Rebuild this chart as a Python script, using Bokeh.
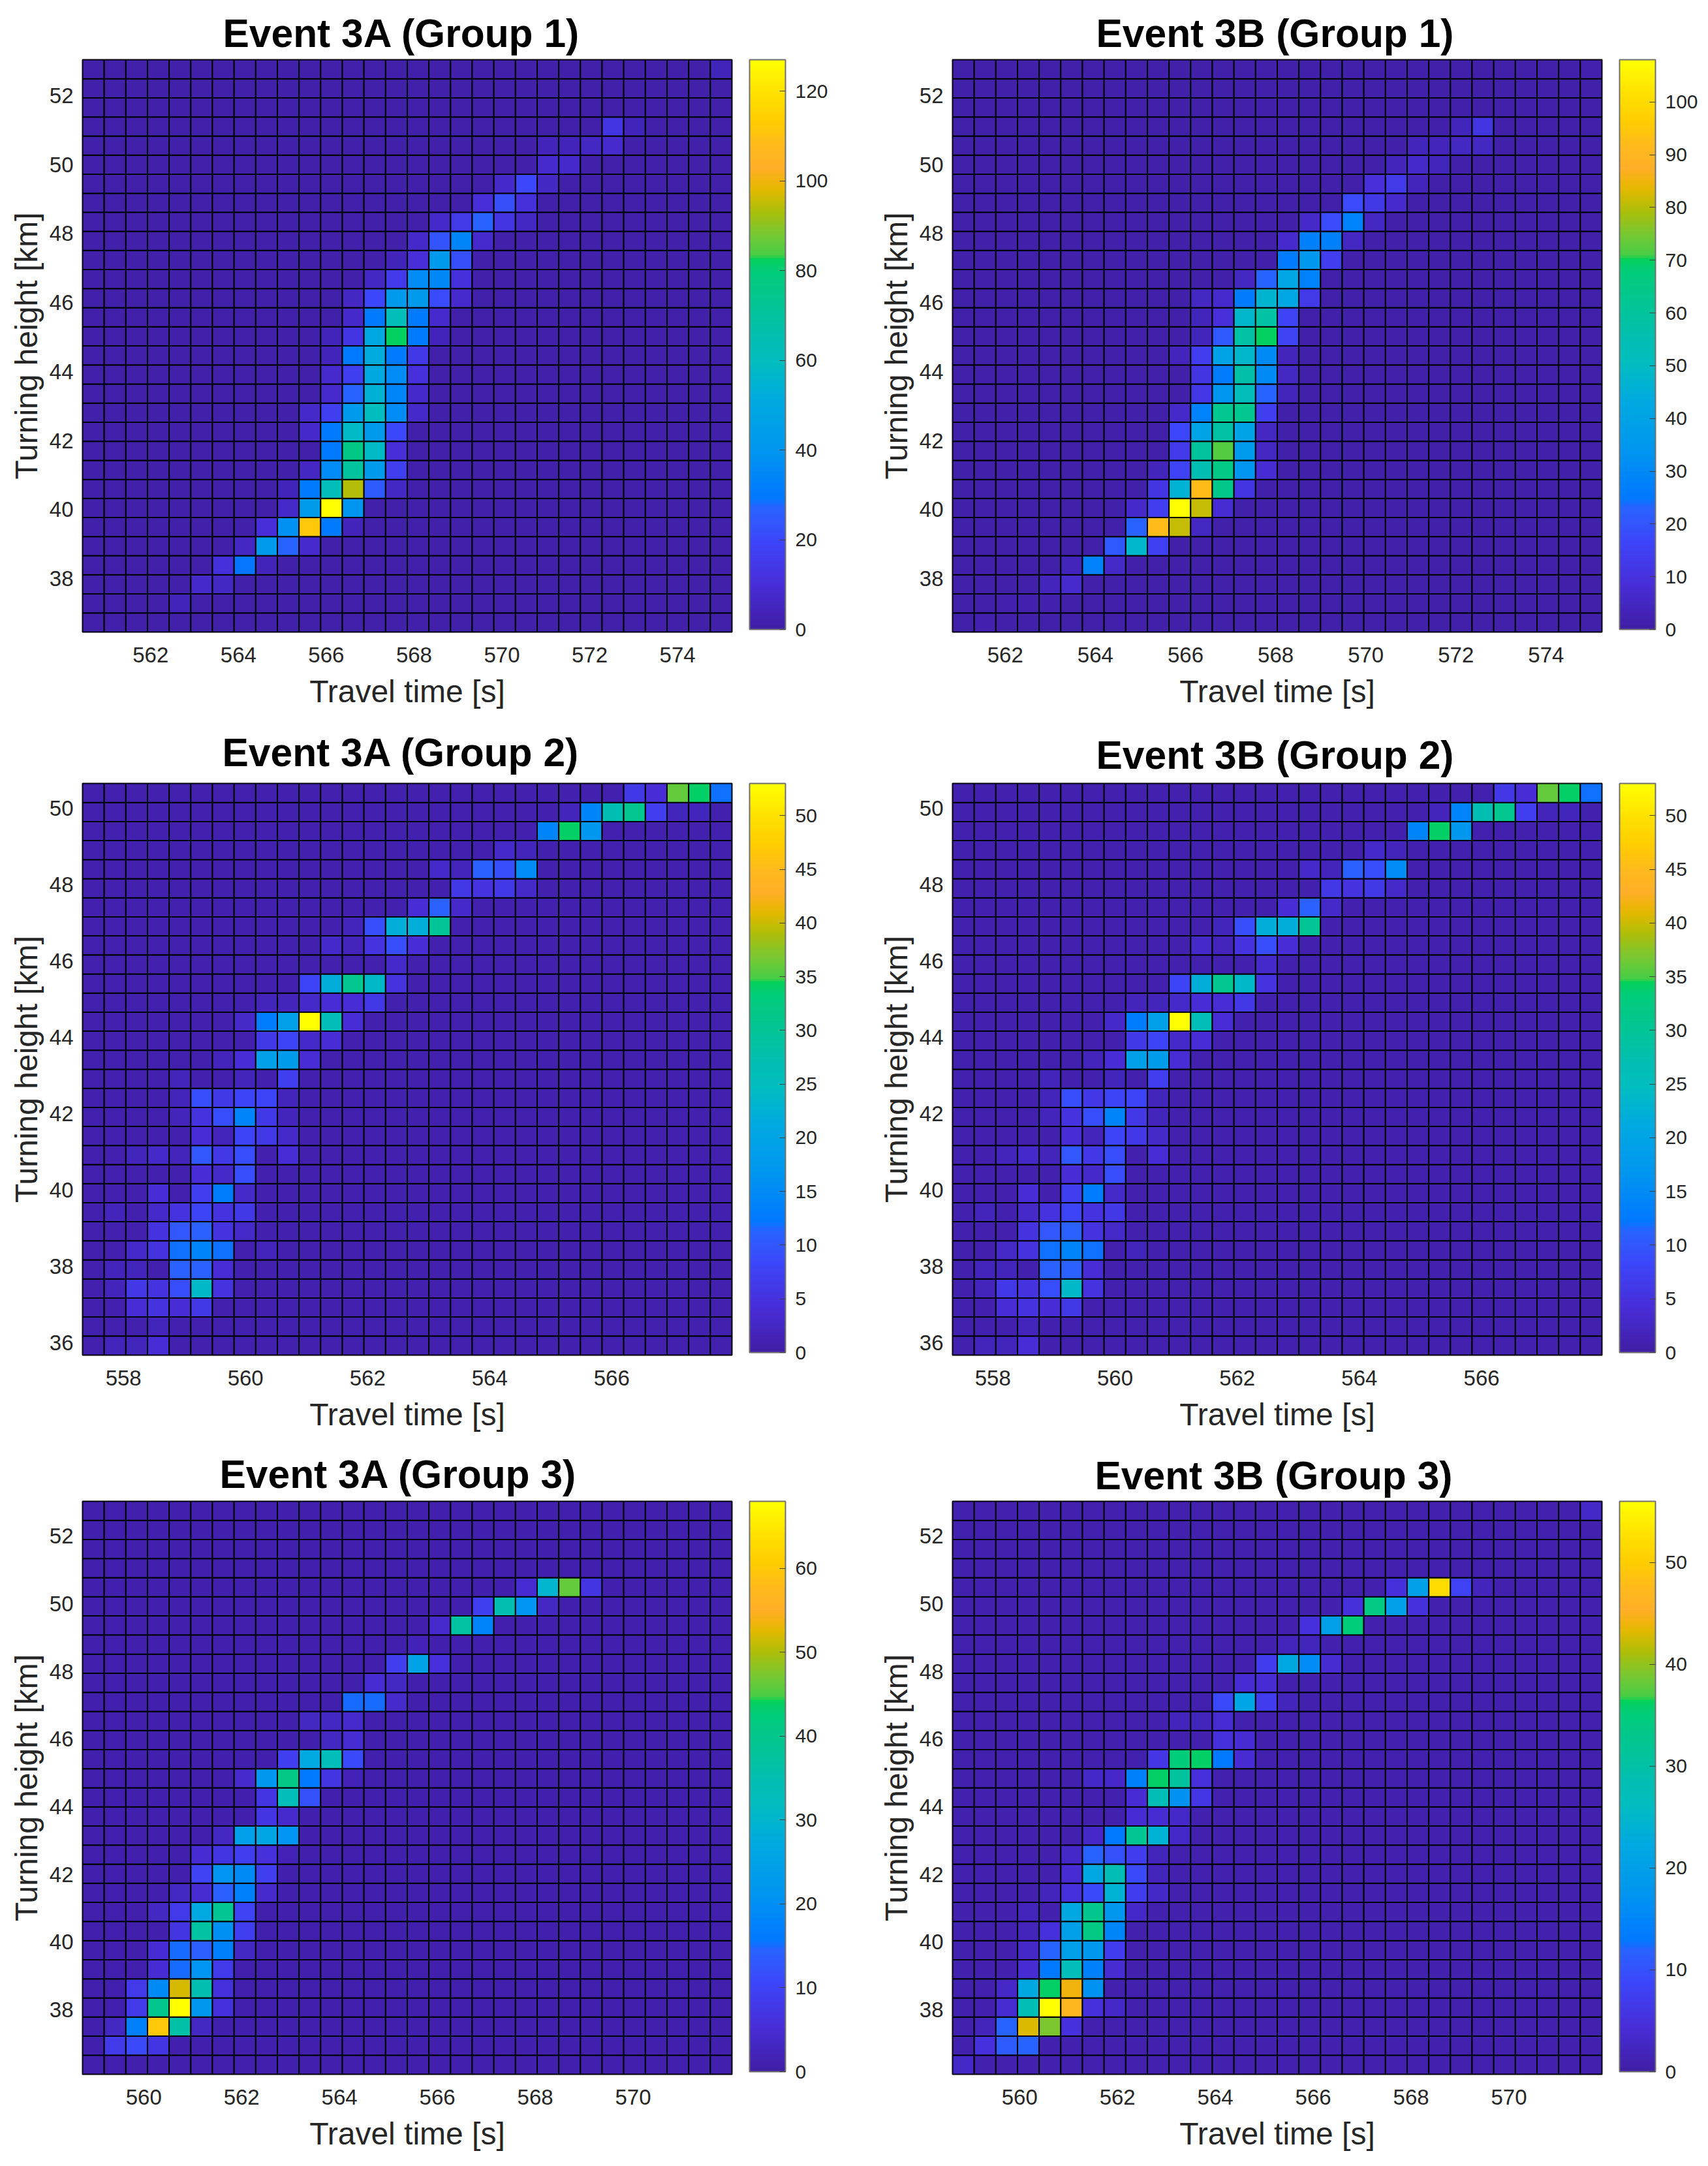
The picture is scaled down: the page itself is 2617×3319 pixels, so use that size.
import numpy as np
from bokeh.embed import file_html
from bokeh.layouts import column, row
from bokeh.models import ColorBar, ColumnDataSource, FixedTicker, LinearColorMapper
from bokeh.plotting import figure
from bokeh.resources import INLINE

# each table is listed top row first, 30 rows by 30 travel time bins
event_3a_group_1 = [
    [1,1,1,1,1,1,1,1,1,1, 1,1,1,1,1,1,1,1,1,1, 1,1,1,1,1,1,1,1,1,4],
    [1,1,1,1,1,1,1,1,1,1, 1,1,1,1,1,1,1,1,1,1, 1,1,1,1,1,1,1,1,1,1],
    [1,1,1,1,1,1,1,1,1,1, 1,1,1,1,1,1,1,1,1,1, 1,1,1,1,1,1,1,1,1,1],
    [1,1,1,1,1,1,1,1,1,1, 1,1,1,1,1,1,1,1,1,1, 1,1,1,1,13,4,1,1,1,1],
    [1,1,1,1,1,1,1,1,1,1, 1,1,1,1,1,1,1,1,1,1, 1,4,4,6,8,1,1,1,1,1],
    [1,1,1,1,1,1,1,1,1,1, 1,1,1,1,1,1,1,1,1,1, 1,8,7,1,1,1,1,1,1,1],
    [1,1,1,1,1,1,1,1,1,1, 1,1,1,1,1,1,1,1,1,7, 20,6,1,1,1,1,1,1,1,1],
    [1,1,1,1,1,1,1,1,1,1, 1,1,1,1,1,1,1,1,10,22, 11,1,1,1,1,1,1,1,1,1],
    [1,1,1,1,1,1,1,1,1,1, 1,1,1,1,1,1,7,15,27,13, 6,1,1,1,1,1,1,1,1,1],
    [1,1,1,1,1,1,1,1,1,1, 1,1,1,1,1,7,23,34,8,1, 1,1,1,1,1,1,1,1,1,1],
    [1,1,1,1,1,1,1,1,1,1, 1,1,1,1,4,10,42,22,1,1, 1,1,1,1,1,1,1,1,1,1],
    [1,1,1,1,1,1,1,1,1,1, 1,1,1,6,15,36,35,11,1,1, 1,1,1,1,1,1,1,1,1,1],
    [1,1,1,1,1,1,1,1,1,1, 1,1,6,20,42,42,21,8,1,1, 1,1,1,1,1,1,1,1,1,1],
    [1,1,1,1,1,1,1,1,1,1, 1,1,7,30,62,30,8,1,1,1, 1,1,1,1,1,1,1,1,1,1],
    [1,1,1,1,1,1,1,1,1,1, 1,4,13,50,82,30,4,1,1,1, 1,1,1,1,1,1,1,1,1,1],
    [1,1,1,1,1,1,1,1,1,1, 1,4,30,52,30,14,1,1,1,1, 1,1,1,1,1,1,1,1,1,1],
    [1,1,1,1,1,1,1,1,1,1, 1,8,17,50,36,11,1,1,1,1, 1,1,1,1,1,1,1,1,1,1],
    [1,1,1,1,1,1,1,1,1,1, 1,8,27,54,34,7,1,1,1,1, 1,1,1,1,1,1,1,1,1,1],
    [1,1,1,1,1,1,1,1,1,1, 7,17,42,60,36,7,1,1,1,1, 1,1,1,1,1,1,1,1,1,1],
    [1,1,1,1,1,1,1,1,1,1, 7,30,58,42,20,1,1,1,1,1, 1,1,1,1,1,1,1,1,1,1],
    [1,1,1,1,1,1,1,1,1,1, 1,30,76,58,10,1,1,1,1,1, 1,1,1,1,1,1,1,1,1,1],
    [1,1,1,1,1,1,1,1,1,1, 6,36,70,42,17,1,1,1,1,1, 1,1,1,1,1,1,1,1,1,1],
    [1,1,1,1,1,1,1,1,1,4, 30,62,94,25,6,1,1,1,1,1, 1,1,1,1,1,1,1,1,1,1],
    [1,1,1,1,1,1,1,1,1,7, 43,127,40,1,1,1,1,1,1,1, 1,1,1,1,1,1,1,1,1,1],
    [1,1,1,1,1,1,1,1,10,38, 112,30,4,1,1,1,1,1,1,1, 1,1,1,1,1,1,1,1,1,1],
    [1,1,1,1,1,1,1,6,42,27, 8,1,1,1,1,1,1,1,1,1, 1,1,1,1,1,1,1,1,1,1],
    [1,1,1,1,1,1,11,29,4,1, 1,1,1,1,1,1,1,1,1,1, 1,1,1,1,1,1,1,1,1,1],
    [1,1,1,1,1,7,6,1,1,1, 1,1,1,1,1,1,1,1,1,1, 1,1,1,1,1,1,1,1,1,1],
    [1,1,1,1,4,1,1,1,1,1, 1,1,1,1,1,1,1,1,1,1, 1,1,1,1,1,1,1,1,1,1],
    [1,1,1,1,1,1,1,1,1,1, 1,1,1,1,1,1,1,1,1,1, 1,1,1,1,1,1,1,1,1,1],
]

event_3b_group_1 = [
    [1,1,1,1,1,1,1,1,1,1, 1,1,1,1,1,1,1,1,1,1, 1,1,1,1,1,1,1,1,1,2],
    [1,1,1,1,1,1,1,1,1,1, 1,1,1,1,1,1,1,1,1,1, 1,1,1,1,1,1,1,1,1,1],
    [1,1,1,1,1,1,1,1,1,1, 1,1,1,1,1,1,1,1,1,1, 1,1,1,1,1,1,1,1,1,1],
    [1,1,1,1,1,1,1,1,1,1, 1,1,1,1,1,1,1,1,1,1, 1,1,1,4,11,1,1,1,1,1],
    [1,1,1,1,1,1,1,1,1,1, 1,1,1,1,1,1,1,1,1,1, 1,4,4,5,5,1,1,1,1,1],
    [1,1,1,1,1,1,1,1,1,1, 1,1,1,1,1,1,1,1,1,1, 4,6,4,1,1,1,1,1,1,1],
    [1,1,1,1,1,1,1,1,1,1, 1,1,1,1,1,1,1,1,1,9, 13,4,1,1,1,1,1,1,1,1],
    [1,1,1,1,1,1,1,1,1,1, 1,1,1,1,1,1,1,1,18,12, 7,1,1,1,1,1,1,1,1,1],
    [1,1,1,1,1,1,1,1,1,1, 1,1,1,1,1,1,6,18,28,5, 1,1,1,1,1,1,1,1,1,1],
    [1,1,1,1,1,1,1,1,1,1, 1,1,1,1,1,7,27,27,5,1, 1,1,1,1,1,1,1,1,1,1],
    [1,1,1,1,1,1,1,1,1,1, 1,1,1,1,1,26,35,14,1,1, 1,1,1,1,1,1,1,1,1,1],
    [1,1,1,1,1,1,1,1,1,1, 1,1,1,5,23,42,28,1,1,1, 1,1,1,1,1,1,1,1,1,1],
    [1,1,1,1,1,1,1,1,1,1, 1,5,7,26,47,42,13,1,1,1, 1,1,1,1,1,1,1,1,1,1],
    [1,1,1,1,1,1,1,1,1,1, 1,4,9,48,58,16,1,1,1,1, 1,1,1,1,1,1,1,1,1,1],
    [1,1,1,1,1,1,1,1,1,1, 1,4,21,58,70,16,1,1,1,1, 1,1,1,1,1,1,1,1,1,1],
    [1,1,1,1,1,1,1,1,1,1, 4,14,40,48,30,4,1,1,1,1, 1,1,1,1,1,1,1,1,1,1],
    [1,1,1,1,1,1,1,1,1,1, 1,11,26,57,30,5,1,1,1,1, 1,1,1,1,1,1,1,1,1,1],
    [1,1,1,1,1,1,1,1,1,1, 1,12,34,52,23,4,1,1,1,1, 1,1,1,1,1,1,1,1,1,1],
    [1,1,1,1,1,1,1,1,1,1, 6,28,63,63,14,1,1,1,1,1, 1,1,1,1,1,1,1,1,1,1],
    [1,1,1,1,1,1,1,1,1,1, 17,40,58,40,5,1,1,1,1,1, 1,1,1,1,1,1,1,1,1,1],
    [1,1,1,1,1,1,1,1,1,1, 13,60,72,36,5,1,1,1,1,1, 1,1,1,1,1,1,1,1,1,1],
    [1,1,1,1,1,1,1,1,1,4, 16,55,65,34,8,1,1,1,1,1, 1,1,1,1,1,1,1,1,1,1],
    [1,1,1,1,1,1,1,1,1,11, 46,92,64,11,1,1,1,1,1,1, 1,1,1,1,1,1,1,1,1,1],
    [1,1,1,1,1,1,1,1,6,14, 108,81,8,1,1,1,1,1,1,1, 1,1,1,1,1,1,1,1,1,1],
    [1,1,1,1,1,1,1,1,23,92, 81,5,1,1,1,1,1,1,1,1, 1,1,1,1,1,1,1,1,1,1],
    [1,1,1,1,1,1,1,21,48,15, 1,1,1,1,1,1,1,1,1,1, 1,1,1,1,1,1,1,1,1,1],
    [1,1,1,1,1,4,28,6,1,1, 1,1,1,1,1,1,1,1,1,1, 1,1,1,1,1,1,1,1,1,1],
    [1,1,1,1,4,7,1,1,1,1, 1,1,1,1,1,1,1,1,1,1, 1,1,1,1,1,1,1,1,1,1],
    [1,1,2,2,2,1,1,1,1,1, 1,1,1,1,1,1,1,1,1,1, 1,1,1,1,1,1,1,1,1,1],
    [1,2,1,1,1,1,1,1,1,1, 1,1,1,1,1,1,1,1,1,1, 1,1,1,1,1,1,1,1,1,1],
]

event_3a_group_2 = [
    [1,1,1,1,1,1,1,1,1,1, 1,1,1,1,1,1,1,1,1,1, 1,1,1,1,1,6,4,36,34,12],
    [1,1,1,1,1,1,1,1,1,1, 1,1,1,1,1,1,1,1,1,1, 1,1,2,14,27,31,7,2,2,1],
    [1,1,1,1,1,1,1,1,1,1, 1,1,1,1,1,1,1,1,1,1, 1,14,34,17,1,1,1,1,1,1],
    [1,1,1,1,1,1,1,1,1,1, 1,1,1,1,1,1,1,1,1,3, 2,1,1,1,1,1,1,1,1,1],
    [1,1,1,1,1,1,1,1,1,1, 1,1,1,1,1,1,3,2,11,9, 15,1,1,1,1,1,1,1,1,1],
    [1,1,1,1,1,1,1,1,1,1, 1,1,1,1,1,1,1,6,5,6, 3,1,1,1,1,1,1,1,1,1],
    [1,1,1,1,1,1,1,1,1,1, 1,1,1,1,1,4,11,3,1,1, 1,1,1,1,1,1,1,1,1,1],
    [1,1,1,1,1,1,1,1,1,1, 1,1,2,9,22,22,30,1,1,1, 1,1,1,1,1,1,1,1,1,1],
    [1,1,1,1,1,1,1,1,1,1, 1,3,2,5,9,4,1,1,1,1, 1,1,1,1,1,1,1,1,1,1],
    [1,1,1,1,1,1,1,1,1,1, 1,1,1,1,3,1,1,1,1,1, 1,1,1,1,1,1,1,1,1,1],
    [1,1,1,1,1,1,1,1,1,1, 8,22,31,24,5,1,1,1,1,1, 1,1,1,1,1,1,1,1,1,1],
    [1,1,1,1,1,1,1,1,2,2, 3,4,4,6,1,1,1,1,1,1, 1,1,1,1,1,1,1,1,1,1],
    [1,1,1,1,1,1,1,3,13,19, 53,26,4,1,1,1,1,1,1,1, 1,1,1,1,1,1,1,1,1,1],
    [1,1,1,1,1,1,1,1,6,8, 3,4,1,1,1,1,1,1,1,1, 1,1,1,1,1,1,1,1,1,1],
    [1,1,1,1,1,1,2,4,19,18, 4,1,1,1,1,1,1,1,1,1, 1,1,1,1,1,1,1,1,1,1],
    [1,1,1,1,2,1,1,2,1,7, 1,1,1,1,1,1,1,1,1,1, 1,1,1,1,1,1,1,1,1,1],
    [1,1,1,1,2,9,6,8,8,2, 1,1,1,1,1,1,1,1,1,1, 1,1,1,1,1,1,1,1,1,1],
    [1,1,1,1,2,5,9,14,6,2, 1,1,1,1,1,1,1,1,1,1, 1,1,1,1,1,1,1,1,1,1],
    [1,1,1,1,1,4,2,8,6,3, 1,1,1,1,1,1,1,1,1,1, 1,1,1,1,1,1,1,1,1,1],
    [1,1,2,3,2,10,6,9,1,4, 1,1,1,1,1,1,1,1,1,1, 1,1,1,1,1,1,1,1,1,1],
    [1,1,1,1,1,4,3,9,1,1, 1,1,1,1,1,1,1,1,1,1, 1,1,1,1,1,1,1,1,1,1],
    [1,1,1,4,1,7,13,3,1,1, 1,1,1,1,1,1,1,1,1,1, 1,1,1,1,1,1,1,1,1,1],
    [1,2,1,3,5,8,5,6,1,1, 1,1,1,1,1,1,1,1,1,1, 1,1,1,1,1,1,1,1,1,1],
    [1,1,1,5,10,11,5,3,1,1, 1,1,1,1,1,1,1,1,1,1, 1,1,1,1,1,1,1,1,1,1],
    [1,1,3,5,12,14,12,1,2,1, 1,1,1,1,1,1,1,1,1,1, 1,1,1,1,1,1,1,1,1,1],
    [1,2,2,1,11,11,4,1,1,1, 1,1,1,1,1,1,1,1,1,1, 1,1,1,1,1,1,1,1,1,1],
    [1,2,6,5,9,24,5,1,1,1, 1,1,1,1,1,1,1,1,1,1, 1,1,1,1,1,1,1,1,1,1],
    [1,1,4,5,4,6,1,1,1,1, 1,1,1,1,1,1,1,1,1,1, 1,1,1,1,1,1,1,1,1,1],
    [1,1,1,2,1,1,1,1,1,1, 1,1,1,1,1,1,1,1,1,1, 1,1,1,1,1,1,1,1,1,1],
    [1,2,2,4,1,1,1,1,1,1, 1,1,1,1,1,1,1,1,1,1, 1,1,1,1,1,1,1,1,1,1],
]

# the two group 2 panels read the same off the picture
event_3b_group_2 = event_3a_group_2

event_3a_group_3 = [
    [1,1,1,1,1,1,1,1,1,1, 1,1,1,1,1,1,1,1,1,1, 1,1,1,1,1,1,1,1,1,1],
    [1,1,1,1,1,1,1,1,1,1, 1,1,1,1,1,1,1,1,1,1, 1,1,1,1,1,1,1,1,1,1],
    [1,1,1,1,1,1,1,1,1,1, 1,1,1,1,1,1,1,1,1,1, 1,1,1,1,1,1,1,1,1,1],
    [1,1,1,1,1,1,1,1,1,1, 1,1,1,1,1,1,1,1,1,1, 1,1,1,1,1,1,1,1,1,1],
    [1,1,1,1,1,1,1,1,1,1, 1,1,1,1,1,1,1,1,1,1, 5,30,46,7,1,1,1,1,1,1],
    [1,1,1,1,1,1,1,1,1,1, 1,1,1,1,1,1,1,1,9,35, 21,3,1,1,1,1,1,1,1,1],
    [1,1,1,1,1,1,1,1,1,1, 1,1,1,1,1,1,4,37,18,1, 1,1,1,1,1,1,1,1,1,1],
    [1,1,1,1,1,1,1,1,1,1, 1,1,1,1,1,2,1,1,1,1, 1,1,1,1,1,1,1,1,1,1],
    [1,1,1,1,1,1,1,1,1,1, 1,1,1,1,9,25,6,1,1,1, 1,1,1,1,1,1,1,1,1,1],
    [1,1,1,1,1,1,1,1,1,1, 1,1,1,5,3,1,1,1,1,1, 1,1,1,1,1,1,1,1,1,1],
    [1,1,1,1,1,1,1,1,1,1, 1,1,15,15,4,1,1,1,1,1, 1,1,1,1,1,1,1,1,1,1],
    [1,1,1,1,1,1,1,1,1,1, 3,3,4,1,1,1,1,1,1,1, 1,1,1,1,1,1,1,1,1,1],
    [1,1,1,1,1,1,1,1,1,1, 1,3,5,1,1,1,1,1,1,1, 1,1,1,1,1,1,1,1,1,1],
    [1,1,1,1,1,1,1,1,1,9, 27,33,11,1,1,1,1,1,1,1, 1,1,1,1,1,1,1,1,1,1],
    [1,1,1,1,1,1,1,4,22,41, 16,7,2,1,1,1,1,1,1,1, 1,1,1,1,1,1,1,1,1,1],
    [1,1,1,1,1,1,1,1,7,33, 12,1,1,1,1,1,1,1,1,1, 1,1,1,1,1,1,1,1,1,1],
    [1,1,1,1,1,1,1,1,7,4, 1,1,1,1,1,1,1,1,1,1, 1,1,1,1,1,1,1,1,1,1],
    [1,1,1,1,1,1,3,24,26,21, 1,1,1,1,1,1,1,1,1,1, 1,1,1,1,1,1,1,1,1,1],
    [1,1,1,1,1,5,7,9,6,2, 1,1,1,1,1,1,1,1,1,1, 1,1,1,1,1,1,1,1,1,1],
    [1,1,1,1,1,10,21,19,9,1, 1,1,1,1,1,1,1,1,1,1, 1,1,1,1,1,1,1,1,1,1],
    [1,1,1,1,3,5,14,17,4,1, 1,1,1,1,1,1,1,1,1,1, 1,1,1,1,1,1,1,1,1,1],
    [1,1,1,3,8,27,39,10,1,1, 1,1,1,1,1,1,1,1,1,1, 1,1,1,1,1,1,1,1,1,1],
    [1,1,1,1,7,37,20,9,1,1, 1,1,1,1,1,1,1,1,1,1, 1,1,1,1,1,1,1,1,1,1],
    [1,1,1,5,15,14,17,3,1,1, 1,1,1,1,1,1,1,1,1,1, 1,1,1,1,1,1,1,1,1,1],
    [1,1,1,5,15,21,8,1,1,1, 1,1,1,1,1,1,1,1,1,1, 1,1,1,1,1,1,1,1,1,1],
    [1,1,8,19,52,35,6,1,1,1, 1,1,1,1,1,1,1,1,1,1, 1,1,1,1,1,1,1,1,1,1],
    [1,1,8,40,68,22,6,1,1,1, 1,1,1,1,1,1,1,1,1,1, 1,1,1,1,1,1,1,1,1,1],
    [1,3,17,60,36,3,1,1,1,1, 1,1,1,1,1,1,1,1,1,1, 1,1,1,1,1,1,1,1,1,1],
    [1,8,11,7,1,1,1,1,1,1, 1,1,1,1,1,1,1,1,1,1, 1,1,1,1,1,1,1,1,1,1],
    [1,1,1,1,1,1,1,1,1,1, 1,1,1,1,1,1,1,1,1,1, 1,1,1,1,1,1,1,1,1,1],
]

event_3b_group_3 = [
    [1,1,1,1,1,1,1,1,1,1, 1,1,1,1,1,1,1,1,1,1, 1,1,1,1,1,1,1,1,1,3],
    [1,1,1,1,1,1,1,1,1,1, 1,1,1,1,1,1,1,1,1,1, 1,1,1,1,1,1,1,1,1,1],
    [1,1,1,1,1,1,1,1,1,1, 1,1,1,1,1,1,1,1,1,1, 1,1,1,1,1,1,1,1,1,1],
    [1,1,1,1,1,1,1,1,1,1, 1,1,1,1,1,1,1,1,1,1, 1,1,1,1,1,1,1,1,1,1],
    [1,1,1,1,1,1,1,1,1,1, 1,1,1,1,1,1,1,1,1,1, 5,20,52,8,2,1,1,1,1,1],
    [1,1,1,1,1,1,1,1,1,1, 1,1,1,1,1,1,1,1,5,34, 20,5,1,1,1,1,1,1,1,1],
    [1,1,1,1,1,1,1,1,1,1, 1,1,1,1,1,1,5,20,35,1, 1,1,1,1,1,1,1,1,1,1],
    [1,1,1,1,1,1,1,1,1,1, 1,1,1,1,1,2,2,1,1,1, 1,1,1,1,1,1,1,1,1,1],
    [1,1,1,1,1,1,1,1,1,1, 1,1,1,1,7,22,16,4,1,1, 1,1,1,1,1,1,1,1,1,1],
    [1,1,1,1,1,1,1,1,1,1, 1,1,1,4,4,1,1,1,1,1, 1,1,1,1,1,1,1,1,1,1],
    [1,1,1,1,1,1,1,1,1,1, 1,1,9,21,7,2,1,1,1,1, 1,1,1,1,1,1,1,1,1,1],
    [1,1,1,1,1,1,1,1,1,1, 2,2,4,1,1,1,1,1,1,1, 1,1,1,1,1,1,1,1,1,1],
    [1,1,1,1,1,1,1,1,1,1, 1,1,5,4,1,1,1,1,1,1, 1,1,1,1,1,1,1,1,1,1],
    [1,1,1,1,1,1,1,1,1,6, 35,36,13,4,1,1,1,1,1,1, 1,1,1,1,1,1,1,1,1,1],
    [1,1,1,1,1,1,3,3,14,36, 31,5,1,1,1,1,1,1,1,1, 1,1,1,1,1,1,1,1,1,1],
    [1,1,1,1,1,1,1,1,4,28, 17,6,1,1,1,1,1,1,1,1, 1,1,1,1,1,1,1,1,1,1],
    [1,1,1,1,1,1,1,1,4,4, 3,1,1,1,1,1,1,1,1,1, 1,1,1,1,1,1,1,1,1,1],
    [1,1,1,1,1,1,3,13,32,24, 3,1,1,1,1,1,1,1,1,1, 1,1,1,1,1,1,1,1,1,1],
    [1,1,1,1,1,3,12,10,7,2, 1,1,1,1,1,1,1,1,1,1, 1,1,1,1,1,1,1,1,1,1],
    [1,1,1,1,1,4,22,28,9,2, 1,1,1,1,1,1,1,1,1,1, 1,1,1,1,1,1,1,1,1,1],
    [1,1,1,1,2,5,9,24,7,3, 1,1,1,1,1,1,1,1,1,1, 1,1,1,1,1,1,1,1,1,1],
    [1,1,1,2,1,22,33,18,3,1, 1,1,1,1,1,1,1,1,1,1, 1,1,1,1,1,1,1,1,1,1],
    [1,1,1,2,5,20,34,15,1,1, 1,1,1,1,1,1,1,1,1,1, 1,1,1,1,1,1,1,1,1,1],
    [1,1,1,3,12,20,18,7,1,1, 1,1,1,1,1,1,1,1,1,1, 1,1,1,1,1,1,1,1,1,1],
    [1,1,1,4,13,27,14,4,1,1, 1,1,1,1,1,1,1,1,1,1, 1,1,1,1,1,1,1,1,1,1],
    [1,1,3,22,36,44,17,1,1,1, 1,1,1,1,1,1,1,1,1,1, 1,1,1,1,1,1,1,1,1,1],
    [1,1,4,28,56,47,5,3,1,1, 1,1,1,1,1,1,1,1,1,1, 1,1,1,1,1,1,1,1,1,1],
    [1,2,12,43,39,5,1,1,1,1, 1,1,1,1,1,1,1,1,1,1, 1,1,1,1,1,1,1,1,1,1],
    [1,5,11,12,1,1,1,1,1,1, 1,1,1,1,1,1,1,1,1,1, 1,1,1,1,1,1,1,1,1,1],
    [3,1,1,1,1,1,1,1,1,1, 1,1,1,1,1,1,1,1,1,1, 1,1,1,1,1,1,1,1,1,1],
]

x_ticks_1 = [562, 564, 566, 568, 570, 572, 574]
x_ticks_2 = [558, 560, 562, 564, 566]
x_ticks_3 = [560, 562, 564, 566, 568, 570]
y_ticks_1 = [38, 40, 42, 44, 46, 48, 50, 52]
y_ticks_2 = [36, 38, 40, 42, 44, 46, 48, 50]

# colormap: fraction of the range, r, g, b
cmap_stops = [
    (0.000, 64, 30, 165), (0.076, 72, 45, 215), (0.156, 60, 70, 250),
    (0.213, 40, 100, 255), (0.229, 0, 120, 255), (0.313, 0, 150, 240),
    (0.400, 0, 170, 225), (0.470, 0, 190, 190), (0.505, 0, 190, 180),
    (0.630, 0, 205, 120), (0.651, 0, 210, 90), (0.657, 70, 205, 70),
    (0.695, 120, 200, 50), (0.734, 170, 190, 10), (0.772, 225, 185, 0),
    (0.787, 240, 180, 10), (0.810, 255, 175, 40), (0.848, 255, 185, 30),
    (0.894, 255, 205, 0), (0.944, 255, 225, 0), (1.000, 255, 255, 0),
]
stops = np.array(cmap_stops)
frac = np.linspace(0, 1, 256)
palette = ["#%02x%02x%02x" % tuple(int(round(np.interp(f, stops[:, 0], stops[:, c]))) for c in (1, 2, 3))
           for f in frac]

FONT = "Liberation Sans"
TEXT = "#262626"


def make_panel(title, table, x_lim, y_lim, x_ticks, y_ticks, bar_ticks, bar_high,
               left, frame_w, right, top, frame_h, bottom, title_offset, title_standoff):
    values = np.array(table)[::-1]
    x_edges = np.linspace(x_lim[0], x_lim[1], values.shape[1] + 1)
    y_edges = np.linspace(y_lim[0], y_lim[1], values.shape[0] + 1)
    xl, yb = np.meshgrid(x_edges[:-1], y_edges[:-1])
    xr, yt = np.meshgrid(x_edges[1:], y_edges[1:])
    source = ColumnDataSource(dict(left=xl.ravel(), right=xr.ravel(), bottom=yb.ravel(),
                                   top=yt.ravel(), value=values.ravel()))

    p = figure(width=left + frame_w + right, height=top + frame_h + bottom,
               frame_width=frame_w, frame_height=frame_h,
               x_range=x_lim, y_range=y_lim, output_backend="svg", toolbar_location=None,
               min_border_left=left, min_border_right=right, min_border_top=top, min_border_bottom=bottom,
               x_axis_label="Travel time [s]", y_axis_label="Turning height [km]", title=title)
    mapper = LinearColorMapper(palette=palette, low=0, high=bar_high)
    p.quad(left="left", right="right", bottom="bottom", top="top", source=source,
           fill_color={"field": "value", "transform": mapper}, line_color="black", line_width=2)

    p.grid.visible = False
    p.outline_line_color = "black"
    p.outline_line_width = 2
    p.title.text_font = FONT
    p.title.text_font_size = "60.5px"
    p.title.text_font_style = "bold"
    p.title.text_color = "black"
    p.title.align = "left"
    p.title.offset = title_offset
    p.title.standoff = title_standoff

    p.xaxis.ticker = FixedTicker(ticks=x_ticks)
    p.yaxis.ticker = FixedTicker(ticks=y_ticks)
    for axis in (p.xaxis, p.yaxis):
        axis.axis_line_color = None
        axis.major_tick_line_color = None
        axis.minor_tick_line_color = None
        axis.major_tick_in = 0
        axis.major_tick_out = 0
        axis.major_label_text_font = FONT
        axis.major_label_text_font_size = "33px"
        axis.major_label_text_color = TEXT
        axis.axis_label_text_font = FONT
        axis.axis_label_text_font_size = "48px"
        axis.axis_label_text_font_style = "normal"
        axis.axis_label_text_color = TEXT
    p.xaxis.major_label_standoff = 23
    p.yaxis.major_label_standoff = 14
    p.xaxis.axis_label_standoff = 15
    p.yaxis.axis_label_standoff = 6

    bar = ColorBar(color_mapper=mapper, ticker=FixedTicker(ticks=bar_ticks), width=55, height=frame_h - 4,
                   padding=0, location=(27, 4),
                   major_label_text_font=FONT, major_label_text_font_size="30px",
                   major_label_text_color=TEXT, label_standoff=15,
                   major_tick_in=9, major_tick_out=0, major_tick_line_color="#404040",
                   minor_tick_line_color=None, bar_line_color="#707070", bar_line_width=2)
    p.add_layout(bar, "right")
    return p


a1 = make_panel("Event 3A (Group 1)", event_3a_group_1, (560.45, 575.24), (36.45, 53.04),
                x_ticks_1, y_ticks_1, [0, 20, 40, 60, 80, 100, 120], 127,
                126, 995, 220, 91, 877, 132, 215, 13)
b1 = make_panel("Event 3B (Group 1)", event_3b_group_1, (560.83, 575.24), (36.45, 53.04),
                x_ticks_1, y_ticks_1, [0, 10, 20, 30, 40, 50, 60, 70, 80, 90, 100], 108,
                118, 995, 150, 91, 877, 132, 220, 13)
a2 = make_panel("Event 3A (Group 2)", event_3a_group_2, (557.33, 567.97), (35.68, 50.65),
                x_ticks_2, y_ticks_2, [0, 5, 10, 15, 20, 25, 30, 35, 40, 45, 50], 53,
                126, 995, 220, 100, 876, 124, 214, 27)
b2 = make_panel("Event 3B (Group 2)", event_3b_group_2, (557.34, 567.97), (35.68, 50.65),
                x_ticks_2, y_ticks_2, [0, 5, 10, 15, 20, 25, 30, 35, 40, 45, 50], 53,
                118, 995, 150, 100, 876, 124, 220, 20)
a3 = make_panel("Event 3A (Group 3)", event_3a_group_3, (558.75, 572.02), (36.09, 53.03),
                x_ticks_3, y_ticks_1, [0, 10, 20, 30, 40, 50, 60], 68,
                126, 995, 220, 100, 878, 125, 210, 16)
b3 = make_panel("Event 3B (Group 3)", event_3b_group_3, (558.63, 571.90), (36.09, 53.03),
                x_ticks_3, y_ticks_1, [0, 10, 20, 30, 40, 50], 56,
                118, 995, 150, 100, 878, 125, 218, 12)

layout = column(row(a1, b1), row(a2, b2), row(a3, b3))
open("out.html", "w").write(file_html(layout, INLINE))
